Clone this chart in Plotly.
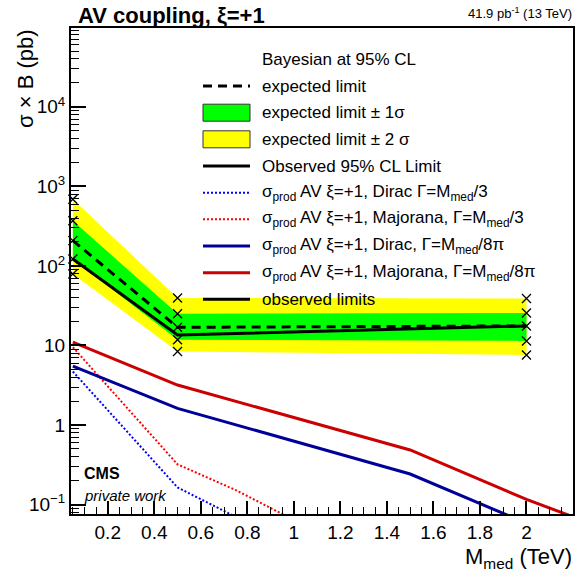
import plotly.graph_objects as go

# ---- limits (pb) at the generated mediator masses (TeV) ----
mass_limits = [0.05, 0.5, 2.0]
expected_limit = [208, 16.9, 17.6]
observed_limit = [122, 13.5, 17.6]
expected_plus1 = [370, 25.0, 25.6]
expected_minus1 = [122, 11.8, 11.4]
expected_plus2 = [690, 39.5, 39.0]
expected_minus2 = [79, 8.4, 7.6]

# ---- production cross sections, narrow width (Gamma = M/8pi) ----
mass_narrow = [0.05, 0.5, 1.5, 2.0, 2.5]
xsec_dirac_8pi = [5.5, 1.62, 0.242, 0.057, 0.014]
xsec_majorana_8pi = [11.0, 3.18, 0.485, 0.116, 0.033]

# ---- production cross sections, broad width (Gamma = M/3) ----
mass_broad = [0.05, 0.5, 0.75, 1.0]
xsec_dirac_3 = [4.7, 0.164, 0.070, 0.025]
xsec_majorana_3 = [9.5, 0.32, 0.152, 0.064]

# ---- axis ticks ----
x_tick_vals = [0.2, 0.4, 0.6, 0.8, 1.0, 1.2, 1.4, 1.6, 1.8, 2.0]
x_tick_text = ["0.2", "0.4", "0.6", "0.8", "1", "1.2", "1.4", "1.6", "1.8", "2"]
y_tick_vals = [0.1, 1, 10, 100, 1000, 10000]
y_tick_text = ["10<sup>\u22121</sup>", "1", "10", "10<sup>2</sup>", "10<sup>3</sup>", "10<sup>4</sup>"]
y_minor_vals = [k * 10.0 ** e for e in range(-2, 5) for k in range(2, 10)]

FONT = "Liberation Sans, Arial, sans-serif"
W, H = 581, 577
L, R, T, B = 71, 8, 28, 63
PW, PH = W - L - R, H - T - B
DOTS = "2px,2px"


def px(x):
    return (x - L) / PW


def py(y):
    return (H - B - y) / PH


fig = go.Figure()


def band(lo, hi, color):
    fig.add_trace(go.Scatter(
        x=mass_limits + mass_limits[::-1],
        y=hi + lo[::-1],
        fill="toself", fillcolor=color, mode="lines",
        line=dict(width=0, color=color), hoverinfo="skip", showlegend=False))


band(expected_minus2, expected_plus2, "#ffff00")
band(expected_minus1, expected_plus1, "#00ff00")

theory = [
    (mass_broad, xsec_dirac_3, "#0000ff", 2, DOTS),
    (mass_broad, xsec_majorana_3, "#ff0000", 2, DOTS),
    (mass_narrow, xsec_dirac_8pi, "#000099", 3, "solid"),
    (mass_narrow, xsec_majorana_8pi, "#cc0000", 3, "solid"),
]
for xs, ys, col, w, dash in theory:
    fig.add_trace(go.Scatter(x=xs, y=ys, mode="lines",
                             line=dict(color=col, width=w, dash=dash),
                             showlegend=False))

fig.add_trace(go.Scatter(x=mass_limits, y=expected_limit, mode="lines",
                         line=dict(color="black", width=3, dash="9px,6px"),
                         showlegend=False))
fig.add_trace(go.Scatter(x=mass_limits, y=observed_limit, mode="lines",
                         line=dict(color="black", width=3),
                         showlegend=False))

for ys in (expected_plus2, expected_plus1, expected_limit, expected_minus1, expected_minus2):
    fig.add_trace(go.Scatter(
        x=mass_limits, y=ys, mode="markers", cliponaxis=False,
        marker=dict(symbol="x-thin", size=9, line=dict(width=1.3, color="black")),
        showlegend=False))

# ---- hand-built legend ----
rows_y = [59.3, 86, 112.7, 139.3, 166, 192.7, 219.3, 246, 272.7, 299.3]
sym_x0, sym_x1, text_x = 203, 250, 260
legend_rows = [
    ("none", None, "Bayesian at 95% CL"),
    ("line", dict(color="black", width=3, dash="9px,6px"), "expected limit"),
    ("box", "#00ff00", "expected limit \u00b1 1\u03c3"),
    ("box", "#ffff00", "expected limit \u00b1 2 \u03c3"),
    ("line", dict(color="black", width=3), "Observed 95% CL Limit"),
    ("line", dict(color="#0000ff", width=2, dash=DOTS),
     "\u03c3<sub>prod</sub> AV \u03be=+1, Dirac \u0393=M<sub>med</sub>/3"),
    ("line", dict(color="#ff0000", width=2, dash=DOTS),
     "\u03c3<sub>prod</sub> AV \u03be=+1, Majorana, \u0393=M<sub>med</sub>/3"),
    ("line", dict(color="#000099", width=3),
     "\u03c3<sub>prod</sub> AV \u03be=+1, Dirac, \u0393=M<sub>med</sub>/8\u03c0"),
    ("line", dict(color="#cc0000", width=3),
     "\u03c3<sub>prod</sub> AV \u03be=+1, Majorana, \u0393=M<sub>med</sub>/8\u03c0"),
    ("line", dict(color="black", width=3), "observed limits"),
]
shapes = []
annotations = []
for yc, (kind, style, label) in zip(rows_y, legend_rows):
    if kind == "line":
        shapes.append(dict(type="line", xref="paper", yref="paper",
                           x0=px(sym_x0), x1=px(sym_x1), y0=py(yc), y1=py(yc),
                           line=style))
    elif kind == "box":
        shapes.append(dict(type="rect", xref="paper", yref="paper",
                           x0=px(sym_x0), x1=px(sym_x1), y0=py(yc + 8.5), y1=py(yc - 8.5),
                           fillcolor=style, line=dict(color="#333333", width=1)))
    annotations.append(dict(xref="paper", yref="paper", x=px(text_x), y=py(yc),
                            xanchor="left", yanchor="middle", showarrow=False,
                            text=label, font=dict(family=FONT, size=17, color="black")))

annotations += [
    dict(xref="paper", yref="paper", x=px(76), y=py(16), xanchor="left", yanchor="middle",
         showarrow=False, text="<b>AV coupling, \u03be=+1</b>",
         font=dict(family=FONT, size=22, color="black")),
    dict(xref="paper", yref="paper", x=px(574), y=py(13), xanchor="right", yanchor="middle",
         showarrow=False, text="41.9 pb<sup>-1</sup> (13 TeV)",
         font=dict(family=FONT, size=13, color="black")),
    dict(xref="paper", yref="paper", x=px(25), y=py(79), xanchor="center", yanchor="middle",
         showarrow=False, textangle=-90, text="\u03c3 \u00d7 B (pb)",
         font=dict(family=FONT, size=22, color="black")),
    dict(xref="paper", yref="paper", x=px(574), y=py(558), xanchor="right", yanchor="middle",
         showarrow=False, text="M<sub>med</sub> (TeV)",
         font=dict(family=FONT, size=22, color="black")),
    dict(xref="paper", yref="paper", x=px(82), y=py(473), xanchor="left", yanchor="middle",
         showarrow=False, text="<b>CMS</b>",
         font=dict(family=FONT, size=16, color="black")),
    dict(xref="paper", yref="paper", x=px(82), y=py(495), xanchor="left", yanchor="middle",
         showarrow=False, text="<i>private work</i>",
         font=dict(family=FONT, size=15, color="black")),
]

fig.update_layout(
    template="none",
    width=W, height=H, autosize=False,
    margin=dict(l=L, r=R, t=T, b=B, pad=0),
    paper_bgcolor="white", plot_bgcolor="white",
    showlegend=False,
    shapes=shapes, annotations=annotations,
    xaxis=dict(
        range=[0.042, 2.2], tickvals=x_tick_vals, ticktext=x_tick_text,
        ticks="inside", ticklen=13, tickwidth=1.5, tickcolor="black",
        showline=True, linecolor="black", linewidth=2, mirror=True,
        showgrid=False, zeroline=False, automargin=False,
        tickfont=dict(family=FONT, size=19, color="black"),
        minor=dict(dtick=0.05, tick0=0, ticks="inside", ticklen=7,
                   tickwidth=1, tickcolor="black", showgrid=False),
    ),
    yaxis=dict(
        type="log", range=[-1.119, 4.991],
        tickvals=y_tick_vals, ticktext=y_tick_text,
        ticks="inside", ticklen=15, tickwidth=1.5, tickcolor="black",
        showline=True, linecolor="black", linewidth=2, mirror=True,
        showgrid=False, zeroline=False, automargin=False,
        tickfont=dict(family=FONT, size=19, color="black"),
        minor=dict(tickvals=y_minor_vals, ticks="inside", ticklen=8,
                   tickwidth=1, tickcolor="black", showgrid=False),
    ),
)

fig.write_html("out.html")
